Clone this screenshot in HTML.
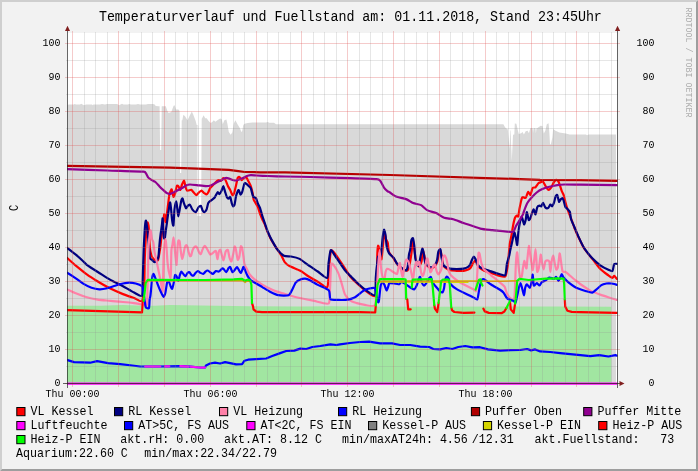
<!DOCTYPE html>
<html lang="de"><head><meta charset="utf-8"><title>Temperaturverlauf und Fuellstand</title>
<style>html,body{margin:0;padding:0;background:#f2f2f2;overflow:hidden}svg{display:block;will-change:transform}text{font-family:"Liberation Mono",monospace;fill:#000;white-space:pre}.t{font-size:13.333px;letter-spacing:-.006px}.l{font-size:11.667px}.a{font-size:10px}.w{font-size:8.333px;fill:#000;fill-opacity:.3}.d{fill:none;stroke-width:2.2;stroke-linejoin:round;stroke-linecap:round}</style></head><body>
<svg width="698" height="471" viewBox="0 0 698 471">
<rect width="698" height="471" fill="#f2f2f2"/>
<path d="M0 0H698L696 2H2V469L0 471Z" fill="#cfcfcf"/>
<path d="M698 0V471H0L2 469H696V2Z" fill="#9e9e9e"/>
<rect x="67" y="33" width="550" height="350" fill="#fff"/>
<defs><clipPath id="c"><rect x="67" y="33" width="550.6" height="352"/></clipPath></defs>
<g clip-path="url(#c)">
<polygon fill="#d9d9d9" points="67.5,105.3 68.5,104.5 74.0,104.5 74.7,103.9 76.0,104.6 80.0,104.6 81.2,103.8 82.5,104.5 84.0,105.2 86.0,104.6 92.0,104.5 92.7,105.2 93.5,104.5 100.0,104.4 102.0,103.9 105.0,104.4 107.0,103.9 117.0,103.9 118.0,104.6 119.0,105.3 120.5,104.5 122.0,103.8 123.5,104.5 128.0,104.5 129.0,104.0 131.0,104.6 136.0,104.4 138.0,103.9 140.0,104.5 146.0,104.5 148.0,103.9 153.0,103.9 154.7,104.5 155.7,105.9 158.7,106.3 159.6,106.3 160.1,150.0 161.2,150.0 161.7,106.3 165.8,106.3 167.3,110.8 168.6,113.1 171.3,112.0 173.6,105.7 174.6,105.2 176.0,109.5 178.4,109.5 179.6,111.0 180.0,173.0 181.2,173.0 181.7,120.2 182.3,120.2 183.4,114.7 185.0,116.3 187.5,120.2 189.4,116.3 191.8,111.5 193.3,114.7 195.7,121.0 196.7,125.0 198.6,126.0 199.2,216.0 201.1,216.0 201.7,118.6 202.0,118.6 203.6,115.2 205.2,118.3 206.7,118.3 208.6,121.0 210.7,123.0 212.3,122.1 213.8,120.2 215.4,121.8 217.8,119.9 220.1,118.6 221.7,119.0 222.8,124.2 224.4,120.2 226.4,119.4 227.5,124.2 228.8,132.0 230.7,134.7 232.3,132.5 233.8,123.4 235.4,120.2 237.5,124.2 239.8,128.1 241.4,132.0 242.2,131.2 243.3,124.9 244.6,123.8 247.7,123.1 252.4,122.6 266.0,122.6 268.0,122.0 269.0,122.8 274.0,122.8 276.0,124.2 503.4,124.2 505.2,127.6 507.8,129.4 509.6,149.0 510.2,130.5 510.6,130.5 511.8,161.0 513.0,134.8 514.3,134.5 514.8,123.6 516.4,123.8 517.7,129.8 518.8,133.9 521.1,133.2 522.6,132.0 523.9,134.5 525.7,131.3 527.6,130.7 528.9,133.2 530.4,127.9 532.6,127.9 533.1,133.0 533.6,127.9 535.4,127.9 535.9,133.5 536.5,127.9 537.5,127.9 540.6,125.7 542.5,126.1 543.8,133.5 545.3,130.7 546.8,124.2 548.6,123.3 549.4,133.5 550.0,143.8 550.8,144.7 552.4,137.3 553.1,128.9 555.5,130.7 559.3,132.6 565.8,133.5 569.5,134.5 586.0,134.5 587.0,135.3 588.5,134.5 616.0,134.5 616,383 67.5,383"/>
<rect x="196.9" y="126" width="2.1" height="90" fill="#fff" opacity=".5"/>
<polygon fill="#a1e6a1" points="67.0,305.8 100.0,305.8 123.0,305.1 142.0,305.8 155.0,305.8 170.0,305.1 200.0,305.6 250.0,306.2 300.0,306.4 330.0,306.3 360.0,306.5 430.0,306.8 500.0,306.5 560.0,306.6 611.3,306.7 611.3,383 67,383"/>
<g class="d">
<polyline stroke="#ff00ff" stroke-width="2.2" stroke-linecap="butt" points="67,383.6 617.5,383.6"/>
<path stroke="#ff0000" d="M67.1 257.9C68.1 258.8 73.6 263.9 75.8 265.7C78.0 267.5 84.4 272.7 86.8 274.4C89.2 276.1 95.2 279.9 97.8 281.5C100.4 283.1 107.6 287.2 110.4 288.6C113.2 290.0 120.4 293.1 123.0 294.1C125.6 295.1 132.0 297.3 134.1 298.0C136.2 298.7 140.9 302.3 142.0 300.9C143.1 299.5 143.9 289.3 144.2 285.0C144.5 280.7 144.6 266.4 144.7 262.0C144.8 257.6 145.2 248.7 145.4 245.0C145.6 241.3 146.4 230.5 146.6 228.0C146.8 225.5 147.4 222.7 147.6 222.5C147.8 222.3 148.4 225.1 148.6 226.3C148.8 227.5 148.9 230.8 149.0 233.2C149.1 235.6 149.7 245.4 149.9 247.8C150.1 250.2 150.9 253.6 151.2 254.7C151.5 255.8 152.4 257.5 152.9 258.1C153.4 258.7 154.9 260.3 155.5 260.5C156.1 260.7 157.6 261.2 158.1 259.8C158.6 258.4 159.8 250.6 160.2 248.0C160.6 245.4 161.2 239.0 161.5 236.6C161.8 234.2 162.5 228.4 162.8 226.0C163.1 223.6 163.9 215.4 164.2 214.5C164.5 213.6 165.0 217.2 165.2 218.0C165.4 218.8 165.7 222.6 165.9 222.0C166.1 221.4 166.7 215.0 167.0 213.0C167.3 211.0 167.9 205.7 168.2 203.7C168.5 201.7 169.0 196.1 169.4 194.5C169.8 192.9 171.3 189.0 171.7 189.3C172.1 189.6 173.0 196.3 173.4 196.8C173.8 197.3 174.7 194.7 175.1 193.5C175.5 192.3 176.4 186.7 176.8 185.9C177.2 185.1 178.2 186.1 178.6 186.5C179.0 186.9 179.9 190.1 180.3 189.9C180.7 189.7 181.6 185.5 182.0 184.5C182.4 183.5 183.7 180.5 184.1 180.7C184.5 180.9 185.1 185.4 185.4 186.5C185.7 187.6 186.5 190.1 187.1 190.5C187.7 190.9 190.5 189.7 191.2 189.9C191.9 190.1 192.9 191.6 193.5 192.2C194.1 192.8 195.7 195.1 196.3 195.1C196.9 195.1 198.6 192.7 199.2 192.2C199.8 191.7 201.0 190.4 201.5 190.5C202.0 190.6 203.2 192.4 203.8 192.8C204.4 193.2 206.1 194.6 206.6 194.5C207.1 194.4 207.9 192.9 208.3 192.2C208.7 191.5 209.6 189.0 210.1 188.2C210.6 187.4 212.2 186.0 212.9 185.3C213.6 184.6 215.9 182.1 216.5 181.5C217.1 180.9 218.3 180.2 218.8 180.1C219.3 180.0 220.5 181.1 221.0 180.9C221.5 180.7 222.8 178.1 223.3 178.0C223.8 177.9 225.1 179.4 225.6 180.3C226.1 181.2 227.4 184.9 227.9 186.0C228.4 187.1 229.7 189.1 230.2 190.1C230.7 191.1 232.1 194.9 232.5 195.2C232.9 195.5 233.8 193.9 234.2 192.9C234.6 191.9 235.5 187.6 235.9 186.0C236.3 184.4 237.3 179.0 237.7 178.0C238.1 177.0 239.0 176.7 239.4 176.9C239.8 177.1 241.2 180.0 241.7 180.1C242.2 180.2 243.5 178.3 244.0 178.0C244.5 177.7 245.8 177.0 246.3 177.4C246.8 177.8 248.1 180.6 248.6 181.5C249.1 182.4 250.4 184.7 250.8 186.0C251.2 187.3 252.3 191.4 252.6 192.9C252.9 194.4 253.4 198.7 253.7 199.8C254.0 200.9 255.0 201.9 255.4 202.7C255.8 203.5 257.2 205.5 257.7 206.7C258.2 207.9 259.5 212.2 260.0 213.6C260.5 215.0 261.8 218.2 262.3 219.3C262.8 220.4 264.0 222.4 264.6 223.9C265.2 225.4 267.2 231.0 268.0 232.8C268.8 234.6 270.5 238.5 271.5 240.2C272.5 241.9 275.7 247.0 276.8 248.7C277.9 250.4 280.6 254.3 281.5 255.8C282.4 257.3 283.8 261.0 284.7 262.1C285.6 263.2 287.7 265.1 289.4 266.0C291.1 266.9 298.3 269.6 300.4 270.7C302.5 271.8 306.4 275.0 308.3 276.2C310.2 277.4 315.7 280.6 317.8 281.8C319.9 283.0 326.0 288.4 327.2 287.3C328.4 286.2 328.4 275.5 328.8 271.5C329.2 267.5 330.2 252.9 330.9 251.0C331.6 249.1 333.9 252.3 335.4 254.2C336.9 256.1 343.3 266.0 344.9 268.4C346.5 270.8 348.7 274.6 350.0 276.2C351.3 277.8 355.3 281.8 356.9 283.3C358.5 284.8 362.9 288.8 364.9 290.2C366.9 291.6 374.1 297.7 375.4 295.9C376.7 294.1 376.7 278.5 376.9 273.9C377.1 269.3 377.2 257.5 377.3 254.4C377.4 251.3 377.9 246.4 378.1 245.8C378.3 245.2 378.9 247.5 379.2 248.7C379.5 249.9 380.1 255.6 380.4 256.7C380.7 257.8 381.3 260.5 381.6 259.0C381.9 257.5 382.9 245.8 383.2 242.9C383.5 240.0 384.1 233.0 384.4 232.6C384.7 232.2 385.7 238.4 386.1 239.5C386.5 240.6 387.5 241.5 387.8 242.9C388.1 244.3 388.3 250.4 389.0 252.1C389.7 253.8 392.9 257.2 393.8 258.6C394.7 260.0 396.6 263.5 397.2 264.4C397.8 265.3 398.9 266.0 399.5 266.6C400.1 267.2 402.0 269.1 402.9 269.5C403.8 269.9 406.6 271.1 407.3 270.6C408.0 270.1 409.2 266.5 409.6 264.7C410.0 262.9 410.9 257.1 411.3 254.4C411.7 251.7 412.5 241.2 412.8 240.6C413.1 240.0 413.9 246.8 414.2 248.7C414.5 250.6 415.3 256.4 415.6 258.0C415.9 259.6 416.4 262.3 416.8 263.2C417.2 264.1 418.6 266.8 419.1 266.6C419.6 266.4 421.2 263.0 421.6 261.3C422.0 259.6 422.6 251.8 422.9 251.2C423.2 250.6 424.1 254.6 424.4 256.0C424.7 257.4 425.2 262.4 425.6 263.6C426.0 264.8 427.6 266.1 428.3 266.6C429.0 267.1 431.0 268.5 431.8 268.3C432.6 268.1 435.2 265.9 435.8 265.0C436.4 264.1 437.3 261.8 437.6 260.5C437.9 259.2 438.4 254.5 438.8 253.5C439.2 252.5 440.5 250.7 440.8 251.2C441.1 251.7 441.6 256.5 441.9 258.0C442.2 259.5 442.9 263.9 443.3 265.0C443.7 266.1 444.9 267.4 445.6 268.0C446.3 268.6 448.6 270.0 449.8 270.3C451.0 270.6 455.2 270.7 456.7 270.8C458.2 270.9 462.3 270.9 463.6 270.8C464.9 270.7 467.5 269.8 468.3 269.5C469.1 269.2 470.1 268.4 470.6 267.8C471.1 267.2 472.2 264.7 472.6 264.0C473.0 263.3 473.8 262.1 474.1 261.7C474.4 261.3 475.2 260.1 475.6 260.5C476.0 260.9 476.9 264.2 477.4 265.0C477.9 265.8 479.0 267.4 479.7 268.0C480.4 268.6 482.9 270.2 484.2 270.8C485.5 271.4 489.4 272.4 491.1 273.0C492.8 273.6 498.4 275.6 500.0 276.0C501.6 276.4 504.4 277.1 505.2 276.4C506.0 275.7 506.7 271.4 507.0 270.0C507.3 268.6 507.7 266.7 508.0 263.9C508.3 261.1 509.3 247.6 509.7 244.4C510.1 241.2 511.1 237.3 511.5 235.2C511.9 233.1 512.8 226.8 513.2 224.9C513.6 223.0 514.5 219.0 514.9 218.0C515.3 217.0 516.2 215.9 516.6 215.7C517.0 215.5 518.0 217.1 518.3 216.3C518.6 215.5 519.1 210.6 519.5 208.6C519.9 206.6 521.4 199.5 521.8 198.2C522.2 196.9 522.5 197.2 522.9 197.1C523.3 197.0 525.2 198.3 525.8 197.7C526.4 197.1 527.6 192.2 528.1 191.9C528.6 191.6 529.9 195.2 530.4 194.8C530.9 194.4 532.1 188.7 532.7 187.9C533.3 187.1 534.9 187.8 535.5 187.3C536.1 186.8 537.8 183.9 538.4 183.3C539.0 182.7 540.2 182.4 540.7 182.2C541.2 182.0 542.5 181.2 543.0 181.6C543.5 182.0 544.8 184.8 545.3 185.6C545.8 186.4 547.2 188.7 547.6 189.1C548.0 189.5 548.9 189.9 549.3 189.6C549.7 189.3 551.1 187.6 551.6 186.8C552.1 186.0 553.4 183.0 553.9 182.2C554.4 181.4 555.7 180.0 556.2 179.9C556.7 179.8 558.1 180.9 558.5 181.6C558.9 182.3 559.8 185.1 560.2 186.2C560.6 187.3 561.5 190.5 561.9 191.4C562.3 192.3 563.2 193.7 563.6 194.8C564.0 195.9 564.9 200.1 565.3 201.7C565.7 203.3 567.1 208.0 567.6 209.5C568.1 211.0 569.5 214.3 569.9 215.5C570.3 216.7 571.1 218.6 571.6 220.0C572.1 221.4 573.8 226.2 574.5 228.0C575.2 229.8 577.1 234.2 578.2 236.5C579.3 238.8 582.6 246.0 584.2 248.5C585.8 251.0 591.2 257.4 592.3 258.8C593.4 260.2 593.4 260.2 594.3 261.3C595.2 262.4 598.7 267.4 600.3 269.0C601.9 270.6 607.1 274.4 608.4 275.4C609.7 276.4 611.9 277.9 612.5 277.9C613.1 277.9 613.6 275.7 614.1 275.8C614.6 275.9 616.8 278.7 617.1 279.1"/>
<path stroke="#000080" d="M67.1 247.9C68.1 248.6 74.1 253.3 75.8 254.7C77.5 256.1 80.9 259.1 82.1 260.2C83.3 261.3 85.1 263.6 86.8 264.9C88.5 266.2 95.2 270.4 97.8 272.0C100.4 273.6 107.6 278.3 110.4 279.9C113.2 281.5 120.4 284.8 123.0 286.2C125.6 287.6 132.0 291.5 134.1 292.5C136.2 293.5 141.1 297.1 142.0 295.7C142.7 294.3 142.5 284.8 142.7 280.0C142.9 275.2 143.4 257.1 143.6 251.7C143.8 246.3 144.5 233.9 144.7 230.5C144.9 227.1 145.5 221.1 145.8 220.7C146.1 220.3 146.7 224.6 147.0 226.5C147.3 228.4 148.0 235.7 148.2 238.0C148.4 240.3 148.8 245.6 149.0 247.8C149.2 250.0 149.6 256.8 149.9 258.1C150.2 259.4 151.5 259.3 152.0 259.8C152.5 260.3 153.9 262.2 154.5 262.2C155.1 262.2 156.8 260.4 157.2 259.8C157.6 259.2 158.3 258.0 158.5 256.4C158.7 254.8 159.2 248.0 159.4 245.5C159.6 243.0 160.4 235.8 160.7 233.5C161.0 231.2 161.7 226.7 161.9 225.0C162.1 223.3 162.5 218.1 162.6 218.4C162.7 218.7 163.1 225.9 163.2 228.0C163.3 230.1 163.7 236.4 163.9 237.6C164.1 238.8 164.6 239.1 164.8 238.5C165.0 237.9 165.4 233.4 165.6 232.0C165.8 230.6 166.2 227.8 166.5 225.8C166.8 223.8 167.8 216.1 168.2 213.5C168.6 210.9 169.7 203.0 170.0 202.5C170.3 202.0 170.9 207.4 171.1 209.4C171.3 211.4 171.9 219.0 172.2 220.8C172.5 222.6 173.1 226.7 173.4 225.4C173.7 224.1 174.2 212.0 174.5 209.4C174.8 206.8 176.0 201.4 176.3 201.4C176.6 201.4 177.2 207.8 177.4 209.4C177.6 211.0 178.0 216.3 178.3 216.3C178.6 216.3 179.4 211.2 179.7 209.4C180.0 207.6 181.1 201.4 181.4 200.2C181.7 199.0 182.3 198.2 182.6 198.5C182.9 198.8 183.3 201.4 183.7 202.5C184.1 203.6 185.6 207.8 186.0 208.2C186.4 208.6 187.3 206.3 187.7 205.9C188.1 205.5 189.5 204.4 190.0 204.8C190.5 205.2 191.7 208.6 192.3 209.4C192.9 210.2 195.0 212.5 195.7 212.2C196.4 211.9 198.0 207.8 198.6 207.1C199.2 206.4 200.5 205.5 200.9 205.9C201.3 206.3 202.2 209.8 202.6 210.5C203.0 211.2 203.9 212.3 204.3 212.2C204.7 212.1 206.1 210.4 206.6 209.4C207.1 208.4 207.8 203.8 208.4 202.7C209.0 201.6 211.2 200.4 211.9 199.8C212.6 199.2 214.1 198.3 214.7 197.5C215.3 196.7 217.1 192.7 217.6 192.3C218.1 191.9 218.9 194.3 219.3 194.1C219.7 193.9 221.2 191.5 221.6 190.6C222.0 189.7 222.9 185.9 223.3 186.0C223.7 186.1 224.7 190.6 225.1 191.8C225.5 193.0 226.4 196.1 226.8 196.9C227.2 197.7 228.1 198.7 228.5 198.7C228.9 198.7 229.8 196.3 230.2 196.9C230.6 197.5 231.6 202.8 231.9 203.8C232.2 204.8 232.8 206.3 233.1 206.4C233.4 206.5 234.3 205.4 234.6 204.4C234.9 203.4 235.6 198.4 235.9 196.9C236.2 195.4 237.4 191.9 237.7 191.2C238.0 190.5 238.5 189.7 238.8 190.1C239.1 190.5 240.1 194.4 240.5 194.6C240.9 194.8 241.8 193.0 242.2 191.8C242.6 190.6 244.0 184.4 244.5 183.5C245.0 182.6 245.8 183.5 246.3 183.8C246.8 184.1 248.1 185.5 248.6 186.0C249.1 186.5 250.3 187.2 250.8 188.3C251.3 189.4 252.5 195.3 253.1 196.4C253.7 197.5 255.5 197.4 256.0 198.1C256.5 198.8 257.3 202.1 257.7 203.2C258.1 204.3 259.5 206.4 260.0 207.8C260.5 209.2 261.8 214.2 262.3 215.8C262.8 217.4 264.0 220.9 264.6 222.7C265.2 224.5 267.2 230.3 268.0 232.2C268.8 234.1 270.5 237.8 271.5 239.6C272.5 241.4 275.4 246.9 276.8 248.7C278.2 250.5 282.3 254.9 283.9 255.8C285.5 256.7 289.3 256.2 291.0 256.5C292.7 256.8 297.7 257.9 299.6 258.9C301.5 259.9 306.3 263.8 308.3 265.2C310.3 266.6 315.7 270.1 317.8 271.5C319.9 272.9 326.0 278.7 327.2 277.8C328.4 276.9 328.1 266.6 328.5 263.6C328.9 260.6 330.0 251.1 330.7 250.2C331.4 249.3 333.6 253.6 335.1 255.8C336.6 258.0 343.0 267.7 344.6 269.9C346.2 272.1 348.6 274.2 350.0 275.6C351.4 277.0 355.3 281.0 356.9 282.5C358.5 284.0 362.9 288.0 364.9 289.4C366.9 290.8 374.0 296.4 375.2 295.1C375.8 293.8 375.6 281.1 375.8 277.9C376.0 274.7 376.6 268.1 376.9 265.8C377.2 263.5 377.8 257.6 378.1 256.7C378.4 255.8 379.4 258.3 379.8 257.8C380.2 257.3 381.0 254.3 381.3 252.0C381.6 249.7 382.4 239.7 382.7 237.2C383.0 234.7 383.7 230.0 384.0 229.7C384.3 229.4 385.2 233.1 385.5 234.9C385.8 236.7 386.3 244.4 386.7 246.4C387.1 248.4 388.2 251.9 389.0 253.2C389.8 254.5 392.7 256.7 393.6 257.8C394.5 258.9 396.4 262.7 397.0 263.6C397.6 264.5 398.7 265.2 399.3 265.8C399.9 266.4 401.9 268.2 402.7 268.7C403.5 269.2 405.6 270.7 406.2 270.4C406.8 270.1 407.6 267.6 407.9 265.8C408.2 264.0 408.7 256.2 409.0 254.4C409.3 252.6 409.9 251.3 410.2 249.8C410.5 248.3 411.0 241.9 411.3 240.6C411.6 239.3 412.7 237.8 413.0 238.3C413.3 238.8 413.9 243.1 414.2 245.2C414.5 247.3 415.0 255.9 415.3 257.8C415.6 259.7 416.1 261.5 416.5 262.4C416.9 263.3 418.4 266.4 418.8 265.8C419.2 265.2 420.1 258.6 420.5 256.7C420.9 254.8 422.0 248.8 422.4 248.6C422.8 248.4 423.7 253.2 424.0 254.8C424.3 256.4 424.8 261.6 425.2 262.8C425.6 264.0 427.3 265.2 428.0 265.7C428.7 266.2 430.7 267.6 431.5 267.4C432.3 267.2 434.9 264.9 435.5 264.0C436.1 263.1 436.9 260.7 437.2 259.4C437.5 258.1 437.9 253.0 438.3 251.9C438.7 250.8 440.0 248.7 440.4 249.3C440.8 249.9 441.2 255.5 441.5 257.1C441.8 258.7 442.5 262.9 442.9 264.0C443.3 265.1 444.4 266.3 445.2 266.8C446.0 267.3 448.5 268.3 449.8 268.6C451.1 268.9 455.2 269.1 456.7 269.1C458.2 269.1 462.3 268.9 463.6 268.6C464.9 268.3 467.4 267.3 468.1 266.8C468.8 266.3 470.0 264.8 470.4 264.0C470.8 263.2 471.7 260.2 472.1 259.4C472.5 258.6 473.5 256.5 473.9 256.5C474.3 256.5 475.2 258.6 475.6 259.4C476.0 260.2 476.9 263.2 477.3 264.0C477.7 264.8 478.8 266.2 479.6 266.8C480.4 267.4 482.9 268.6 484.2 269.1C485.5 269.6 489.4 270.8 491.1 271.4C492.8 272.0 498.4 273.8 500.0 274.2C501.6 274.6 504.4 276.3 505.2 275.2C506.0 274.1 506.5 265.9 506.9 263.8C507.3 261.7 508.8 257.2 509.2 255.7C509.6 254.2 509.9 251.8 510.3 250.1C510.7 248.4 512.2 241.8 512.6 239.8C513.0 237.8 513.9 232.4 514.3 232.3C514.7 232.2 515.7 237.3 516.0 238.7C516.3 240.1 516.9 245.6 517.2 245.0C517.5 244.4 518.0 235.5 518.3 232.9C518.6 230.3 519.7 223.3 520.1 221.5C520.5 219.7 521.4 216.6 521.8 216.9C522.2 217.2 523.7 224.0 524.1 224.3C524.5 224.6 525.5 220.6 525.8 219.2C526.1 217.8 526.6 211.9 526.9 212.0C527.2 212.1 528.3 219.3 528.7 220.0C529.1 220.7 530.0 218.8 530.4 218.0C530.8 217.2 531.7 213.5 532.1 212.6C532.5 211.7 533.4 209.3 533.8 209.5C534.2 209.7 535.1 214.6 535.5 214.4C535.9 214.2 536.8 208.4 537.2 207.4C537.6 206.4 539.0 205.8 539.5 205.7C540.0 205.6 540.9 206.6 541.3 206.3C541.7 206.0 542.6 202.7 543.0 202.8C543.4 202.9 544.7 206.8 545.3 207.4C545.9 208.0 547.5 208.3 548.1 208.0C548.7 207.7 550.0 204.7 550.4 204.5C550.8 204.3 551.7 206.5 552.1 206.3C552.5 206.1 553.5 203.9 553.9 202.8C554.3 201.7 555.2 197.4 555.6 196.5C556.0 195.6 556.9 194.4 557.3 195.0C557.7 195.6 558.6 201.2 559.0 201.7C559.4 202.2 560.3 199.8 560.7 199.4C561.1 199.0 562.2 198.1 562.5 198.2C562.8 198.3 563.3 199.6 563.6 200.5C563.9 201.4 564.9 205.9 565.3 206.8C565.7 207.7 567.1 208.5 567.6 209.1C568.1 209.7 569.5 210.9 569.9 212.0C570.3 213.1 570.6 217.5 571.1 219.2C571.6 220.9 573.7 225.3 574.5 227.2C575.3 229.1 577.1 233.8 578.2 236.1C579.3 238.4 582.6 245.8 584.2 248.2C585.8 250.6 590.5 256.4 592.3 258.3C594.1 260.2 598.5 264.0 600.3 265.3C602.1 266.6 607.1 269.2 608.4 269.8C609.7 270.4 611.9 271.6 612.5 271.0C613.1 270.4 613.6 265.1 614.1 264.3C614.6 263.5 616.8 263.9 617.1 263.9"/>
<path stroke="#ff80a8" d="M67.1 289.4C68.1 289.8 73.6 292.4 75.8 293.3C78.0 294.2 84.4 296.6 86.8 297.3C89.2 298.0 95.2 299.2 97.8 299.6C100.4 300.0 107.6 300.6 110.4 300.9C113.2 301.2 120.4 301.8 123.0 302.0C125.6 302.2 132.0 302.8 134.1 303.1C136.2 303.4 140.6 304.3 142.0 304.5C143.4 304.7 146.2 307.1 146.8 305.0C147.4 302.9 147.4 289.7 147.6 285.0C147.8 280.3 148.1 266.5 148.2 262.0C148.3 257.5 148.5 247.2 148.8 243.7C149.1 240.2 150.1 230.7 150.5 230.2C150.9 229.7 151.7 237.9 152.0 239.2C152.3 240.5 153.0 240.8 153.3 242.2C153.6 243.6 154.1 249.8 154.5 252.0C154.9 254.2 156.3 259.7 156.8 262.0C157.3 264.3 158.5 270.7 159.0 273.0C159.5 275.3 160.6 281.0 161.0 283.0C161.4 285.0 162.4 292.4 162.6 291.5C162.8 290.6 163.1 279.0 163.2 275.0C163.3 271.0 163.5 258.1 163.6 254.7C163.7 251.3 164.3 246.1 164.5 244.4C164.7 242.7 165.3 239.2 165.5 239.2C165.7 239.2 166.1 243.1 166.2 244.4C166.3 245.7 166.7 249.3 166.8 251.2C166.9 253.1 167.3 259.9 167.5 262.0C167.7 264.1 168.3 268.5 168.5 270.0C168.7 271.5 169.5 274.3 169.7 275.2C169.9 276.1 170.4 278.4 170.5 277.8C170.6 277.2 170.9 273.0 171.0 270.0C171.1 267.0 171.2 253.2 171.4 250.4C171.6 247.6 172.3 245.8 172.5 244.4C172.7 243.0 173.3 237.3 173.5 237.3C173.7 237.3 174.2 242.5 174.4 244.4C174.6 246.3 175.1 252.8 175.3 254.7C175.5 256.6 176.0 260.9 176.1 262.0C176.2 263.1 176.4 265.3 176.5 264.9C176.6 264.5 176.9 259.6 177.0 258.0C177.1 256.4 177.3 252.3 177.4 250.4C177.5 248.5 178.1 241.9 178.3 240.9C178.5 239.9 179.4 240.5 179.6 241.3C179.8 242.1 180.2 246.3 180.4 247.8C180.6 249.3 181.1 253.5 181.3 254.7C181.5 255.9 182.1 259.0 182.3 259.0C182.5 259.0 183.1 255.9 183.4 254.7C183.7 253.5 184.4 248.8 184.7 247.8C185.0 246.8 185.7 245.3 186.0 245.2C186.3 245.1 187.0 245.7 187.3 246.5C187.6 247.3 188.3 251.1 188.6 252.1C188.9 253.1 189.6 255.6 189.9 256.0C190.2 256.4 190.9 256.1 191.2 255.5C191.5 254.9 192.2 251.3 192.5 250.4C192.8 249.5 193.8 247.8 194.2 247.4C194.6 247.0 195.9 246.4 196.3 246.5C196.7 246.6 197.3 248.1 197.6 248.7C197.9 249.3 198.6 251.5 198.9 252.1C199.2 252.7 199.8 253.6 200.0 253.8C200.2 254.0 200.6 254.5 200.9 254.0C201.2 253.5 202.2 250.3 202.6 249.4C203.0 248.5 204.4 245.9 204.9 245.9C205.4 245.9 206.7 248.5 207.3 249.4C207.9 250.3 209.6 254.1 210.2 254.5C210.8 254.9 212.4 253.2 213.0 252.8C213.6 252.4 215.4 250.4 215.9 251.1C216.4 251.8 217.1 259.0 217.4 259.1C217.7 259.2 218.5 252.7 218.8 251.7C219.1 250.7 220.0 249.1 220.5 250.0C221.0 250.9 222.7 260.1 223.3 260.3C223.9 260.5 225.1 252.8 225.6 251.7C226.1 250.6 227.5 249.3 227.9 250.0C228.3 250.7 229.2 256.7 229.6 258.0C230.0 259.3 231.0 261.8 231.4 261.4C231.8 261.0 232.7 256.1 233.1 254.5C233.5 252.9 234.3 247.1 234.6 246.5C234.9 245.9 235.6 247.9 235.9 249.4C236.2 250.9 237.3 258.9 237.7 259.7C238.1 260.5 239.1 257.8 239.4 256.3C239.7 254.8 240.5 247.4 240.8 246.5C241.1 245.6 241.9 247.1 242.2 248.2C242.5 249.3 243.1 254.5 243.4 256.3C243.7 258.1 244.1 262.9 244.5 264.3C244.9 265.7 246.2 267.8 246.8 268.9C247.4 270.0 248.9 273.4 249.7 274.5C250.5 275.6 253.2 278.2 254.3 279.1C255.4 280.0 258.5 282.2 260.0 283.1C261.5 284.0 266.2 286.8 268.0 287.7C269.8 288.6 274.2 290.7 276.1 291.4C278.0 292.1 282.7 293.3 285.0 294.0C287.3 294.7 294.2 296.8 297.3 297.5C300.4 298.2 309.5 300.1 313.0 300.7C316.5 301.3 326.9 304.9 328.8 303.4C330.1 301.9 329.8 291.6 330.1 287.3C330.4 283.0 330.7 266.7 331.2 264.4C331.7 262.1 333.5 265.0 334.3 266.0C335.1 267.0 337.5 271.3 338.3 273.1C339.1 274.9 340.7 280.3 341.4 282.6C342.1 284.9 343.9 291.9 344.6 293.6C345.3 295.3 346.9 297.4 347.7 298.3C348.5 299.2 351.0 301.1 352.0 301.6C353.0 302.1 355.5 302.7 356.9 303.1C358.3 303.5 363.0 304.6 364.9 304.9C366.8 305.2 373.3 307.1 374.6 305.4C375.9 303.7 376.5 293.7 376.9 289.4C377.3 285.1 377.8 270.8 378.1 266.5C378.4 262.2 379.3 250.0 379.6 250.0C379.9 250.0 380.6 263.4 380.9 266.5C381.2 269.6 382.3 276.4 382.7 277.9C383.1 279.4 384.1 280.8 384.4 280.2C384.7 279.6 385.2 273.5 385.5 272.2C385.8 270.9 386.7 269.1 387.2 268.8C387.7 268.5 389.4 269.5 390.1 269.9C390.8 270.3 392.8 271.8 393.6 272.2C394.4 272.6 396.4 274.5 397.0 273.9C397.6 273.3 398.4 267.7 398.7 266.5C399.0 265.3 399.6 262.6 399.9 263.0C400.2 263.4 400.7 268.4 401.0 269.9C401.3 271.4 402.3 277.2 402.7 276.8C403.1 276.4 404.0 268.4 404.4 266.5C404.8 264.6 405.7 260.1 406.2 259.6C406.7 259.1 408.0 260.8 408.5 261.9C409.0 263.0 410.2 268.0 410.7 269.9C411.2 271.8 412.6 279.7 413.0 279.6C413.4 279.5 414.0 270.7 414.4 268.8C414.8 266.9 415.8 262.3 416.2 261.9C416.6 261.5 417.3 265.3 417.6 265.3C417.9 265.3 418.9 261.1 419.3 261.9C419.7 262.7 420.7 270.6 421.1 272.2C421.5 273.8 422.4 276.1 422.8 276.0C423.2 275.9 424.1 272.7 424.5 271.0C424.9 269.3 426.0 261.9 426.3 260.5C426.6 259.1 427.2 258.0 427.5 258.4C427.8 258.8 428.3 262.5 428.6 264.0C428.9 265.5 430.0 271.3 430.3 272.0C430.6 272.7 431.2 271.4 431.5 270.8C431.8 270.2 432.8 267.0 433.2 266.3C433.6 265.6 434.5 264.0 434.9 264.5C435.3 265.0 436.2 269.7 436.6 270.8C437.0 271.9 437.8 274.4 438.3 274.3C438.8 274.2 440.7 271.5 441.2 269.7C441.7 267.9 442.5 259.8 442.9 258.2C443.3 256.6 444.2 255.4 444.6 255.4C445.0 255.4 445.8 257.3 446.1 258.2C446.4 259.1 447.2 262.6 447.5 264.0C447.8 265.4 448.3 269.6 448.7 270.8C449.1 272.0 449.9 274.2 450.9 275.3C451.9 276.4 456.2 279.9 457.8 281.0C459.4 282.1 464.0 284.7 465.8 285.6C467.6 286.5 472.8 289.0 473.9 289.6C475.0 290.2 475.8 292.2 476.2 290.8C476.6 289.4 476.9 279.7 477.1 276.5C477.3 273.3 477.7 264.6 477.9 262.0C478.1 259.4 478.3 254.0 478.5 253.1C478.7 252.2 479.3 252.6 479.6 253.7C479.9 254.8 480.9 261.1 481.3 262.8C481.7 264.5 483.3 268.3 483.6 269.0C483.9 269.7 483.6 268.9 484.2 269.6C485.0 270.3 489.4 273.9 491.1 275.3C492.8 276.7 498.5 281.2 500.0 282.5C501.5 283.8 503.8 285.5 504.6 286.7C505.4 287.9 506.3 292.4 506.9 293.6C507.5 294.8 508.9 297.0 509.7 297.6C510.5 298.2 513.2 300.1 513.8 299.3C514.4 298.5 514.7 294.3 514.9 290.1C515.1 285.9 515.7 265.7 516.0 261.5C516.3 257.3 516.9 252.0 517.2 252.3C517.5 252.6 518.0 261.0 518.3 263.8C518.6 266.6 519.7 276.1 520.1 277.5C520.5 278.9 521.5 277.4 521.8 276.4C522.1 275.4 522.6 270.0 522.9 268.3C523.2 266.6 524.0 261.0 524.3 260.9C524.6 260.8 525.5 266.4 525.8 267.2C526.1 268.0 526.4 269.0 526.6 268.0C526.8 267.0 527.2 260.4 527.5 258.0C527.8 255.6 528.6 246.0 528.9 245.8C529.2 245.6 530.1 254.1 530.4 256.0C530.7 257.9 531.2 261.5 531.5 263.0C531.8 264.5 532.5 270.3 532.8 270.0C533.1 269.7 533.9 262.3 534.2 260.0C534.5 257.7 535.3 249.0 535.5 249.0C535.7 249.0 536.2 257.5 536.4 260.0C536.6 262.5 536.9 271.0 537.2 271.8C537.5 272.6 538.6 269.1 539.0 267.2C539.4 265.3 540.4 255.3 540.7 254.7C541.0 254.1 541.5 259.9 541.8 261.5C542.1 263.1 543.2 269.5 543.6 269.5C544.0 269.5 544.9 262.5 545.3 261.5C545.7 260.5 546.6 260.3 547.0 260.3C547.4 260.3 548.9 260.2 549.3 261.5C549.7 262.8 550.1 271.8 550.4 271.8C550.7 271.8 551.3 263.3 551.6 261.5C551.9 259.7 553.0 255.7 553.3 255.7C553.6 255.7 554.1 260.0 554.4 261.5C554.7 263.0 555.8 268.9 556.2 269.5C556.6 270.1 557.5 268.9 557.9 267.2C558.3 265.5 559.3 254.5 559.6 253.6C559.9 252.7 560.4 257.3 560.7 259.2C561.0 261.1 562.0 269.8 562.5 271.2C563.0 272.6 564.6 271.4 565.3 271.8C566.0 272.2 567.8 273.8 568.8 274.6C569.8 275.4 573.2 278.5 574.5 279.5C575.8 280.5 578.5 282.8 580.2 284.0C581.9 285.2 588.1 289.4 590.3 290.6C592.5 291.8 598.1 293.8 600.3 294.6C602.5 295.4 608.6 297.4 610.4 298.0C612.2 298.6 616.4 299.8 617.1 300.0"/>
<path stroke="#0000ff" d="M67.1 272.8C68.1 273.4 74.0 277.1 75.8 278.3C77.6 279.5 81.9 282.9 83.6 283.9C85.3 284.9 89.8 287.2 91.5 287.8C93.2 288.4 97.7 289.3 99.4 289.4C101.1 289.5 105.6 288.7 107.3 288.3C109.0 287.9 113.5 286.2 115.2 285.7C116.9 285.2 121.4 283.8 123.0 283.5C124.6 283.2 127.9 282.6 129.3 282.6C130.7 282.6 134.3 283.1 135.7 283.5C137.1 283.9 141.2 285.6 142.0 286.2C142.8 286.8 142.7 287.8 143.0 289.4C143.3 291.0 144.4 298.8 144.7 300.8C145.0 302.8 145.4 306.5 145.9 307.3C146.4 308.1 148.6 308.9 149.0 308.1C149.4 307.3 149.4 301.4 149.6 300.0C149.8 298.6 150.2 297.5 150.5 295.1C150.8 292.7 151.9 280.2 152.2 277.9C152.5 275.6 153.3 274.0 153.6 273.9C153.9 273.8 154.6 276.1 155.1 277.3C155.6 278.5 157.3 283.2 157.9 284.8C158.5 286.4 160.2 290.4 160.8 291.7C161.4 293.0 163.2 296.7 163.7 296.8C164.2 296.9 165.0 294.4 165.4 292.8C165.8 291.2 166.7 283.8 167.1 282.5C167.5 281.2 168.4 281.0 168.8 281.4C169.2 281.8 170.1 285.1 170.5 285.9C170.9 286.7 171.8 289.3 172.2 288.8C172.6 288.3 173.7 282.9 174.0 281.4C174.3 279.9 174.8 275.6 175.1 275.1C175.4 274.6 176.4 276.2 176.8 276.8C177.2 277.4 178.0 280.9 178.3 280.8C178.6 280.7 179.4 276.6 179.7 275.6C180.0 274.6 181.0 271.7 181.4 271.6C181.8 271.5 183.3 274.0 183.7 274.5C184.1 275.0 185.0 276.4 185.4 276.2C185.8 276.0 187.3 273.2 187.7 272.8C188.1 272.4 189.0 271.9 189.4 272.2C189.8 272.5 191.2 274.7 191.7 275.1C192.2 275.5 193.1 275.9 193.5 275.6C193.9 275.3 195.2 273.3 195.7 272.8C196.2 272.3 197.5 271.0 198.0 271.0C198.5 271.0 199.7 272.5 200.3 272.8C200.9 273.1 202.6 274.0 203.2 273.9C203.8 273.8 205.0 272.0 205.5 271.6C206.0 271.2 207.3 270.4 207.8 270.5C208.3 270.6 209.5 271.8 210.1 272.2C210.7 272.6 212.4 274.0 213.0 273.9C213.6 273.8 215.3 271.3 215.9 271.0C216.5 270.7 218.1 271.9 218.8 271.6C219.5 271.3 221.6 268.8 222.2 268.5C222.8 268.2 223.5 268.9 223.9 269.3C224.3 269.7 225.7 272.3 226.2 272.2C226.7 272.1 228.1 268.8 228.5 268.2C228.9 267.6 229.8 266.6 230.2 267.0C230.6 267.4 232.0 271.9 232.5 272.2C233.0 272.5 234.3 270.5 234.8 269.9C235.3 269.3 236.6 266.9 237.1 267.0C237.6 267.1 239.0 270.4 239.4 271.0C239.8 271.6 240.7 273.2 241.1 272.8C241.5 272.4 243.0 267.3 243.4 267.0C243.8 266.7 244.7 269.6 245.1 270.5C245.5 271.4 246.8 274.5 247.4 275.6C248.0 276.7 249.8 279.3 250.8 280.2C251.8 281.1 255.3 282.9 256.6 283.7C257.9 284.5 260.8 286.2 262.3 287.1C263.8 288.0 268.7 291.1 270.5 292.0C272.3 292.9 276.4 294.8 278.4 295.2C280.4 295.6 287.1 295.7 288.6 295.2C290.1 294.7 291.0 291.8 291.8 290.4C292.6 289.0 294.8 283.8 295.7 282.6C296.6 281.4 299.4 279.8 300.4 279.4C301.4 279.0 304.2 278.5 305.2 278.6C306.2 278.7 308.5 279.5 309.9 280.2C311.3 280.9 315.7 283.8 317.8 284.9C319.9 286.0 327.4 288.8 328.8 290.4C330.2 292.0 329.4 298.1 330.4 299.1C331.4 300.1 336.4 299.8 338.3 299.9C340.2 300.0 345.9 299.9 347.7 299.6C349.5 299.3 353.3 298.0 354.6 297.4C355.9 296.8 358.2 294.8 359.2 294.0C360.2 293.2 362.8 291.1 363.8 290.5C364.8 289.9 367.1 289.1 368.3 288.8C369.5 288.5 373.7 287.6 374.6 288.0C375.5 288.4 375.8 291.4 376.1 292.8C376.4 294.2 377.2 299.8 377.5 300.8C377.8 301.8 378.4 302.9 378.7 302.0C379.0 301.1 379.6 294.7 379.8 292.8C380.0 290.9 380.6 285.9 380.9 284.8C381.2 283.7 382.3 282.5 382.7 282.5C383.1 282.5 384.0 283.9 384.4 284.8C384.8 285.7 386.3 290.4 386.7 290.5C387.1 290.6 388.1 286.7 388.4 285.9C388.7 285.1 388.7 283.3 389.5 283.1C390.3 282.9 394.7 283.6 395.8 283.7C396.9 283.8 398.7 284.4 399.3 284.2C399.9 284.0 400.5 282.0 401.0 281.9C401.5 281.8 403.2 282.7 403.9 283.1C404.6 283.5 406.6 284.9 407.3 285.4C408.0 285.9 409.9 287.3 410.7 287.7C411.5 288.1 413.6 289.6 414.2 289.4C414.8 289.2 416.0 287.0 416.5 285.9C417.0 284.8 418.4 280.1 418.8 279.1C419.2 278.1 419.8 276.5 420.1 276.8C420.4 277.1 421.3 281.2 421.7 282.2C422.1 283.2 423.4 285.6 424.0 285.6C424.6 285.6 426.3 283.0 426.9 282.2C427.5 281.4 428.8 278.8 429.2 278.2C429.6 277.6 430.5 276.6 430.9 277.0C431.3 277.4 432.0 281.1 432.6 282.2C433.2 283.3 435.2 285.9 436.0 286.8C436.8 287.7 438.8 290.2 439.5 290.8C440.2 291.4 441.8 292.8 442.3 292.5C442.8 292.2 443.8 289.3 444.1 287.9C444.4 286.5 444.9 281.2 445.2 279.9C445.5 278.6 446.5 276.6 446.9 276.5C447.3 276.4 448.3 277.9 448.7 278.8C449.1 279.7 450.0 283.4 450.9 284.5C451.8 285.6 455.1 288.1 456.7 289.1C458.3 290.1 463.9 292.8 465.8 293.7C467.7 294.6 472.6 297.1 473.9 297.7C475.2 298.3 476.8 299.8 477.3 299.4C477.8 299.0 478.2 295.3 478.5 293.7C478.8 292.1 479.8 286.0 480.2 284.5C480.6 283.0 481.5 280.5 481.9 279.9C482.3 279.3 483.7 279.2 484.2 279.3C484.7 279.4 485.7 280.4 486.5 281.0C487.3 281.6 489.6 283.5 491.1 284.5C492.6 285.5 498.6 288.9 500.0 289.8C501.4 290.7 502.6 291.5 503.4 292.4C504.2 293.3 506.1 297.3 506.9 298.1C507.7 298.9 509.5 299.6 510.3 299.9C511.1 300.2 513.2 300.7 513.8 301.0C514.4 301.3 515.1 303.3 515.5 302.7C515.9 302.1 516.8 297.4 517.2 295.8C517.6 294.2 518.5 289.2 518.9 287.8C519.3 286.4 520.2 283.1 520.6 283.2C521.0 283.3 521.9 287.7 522.3 289.0C522.7 290.3 523.8 295.4 524.1 295.3C524.4 295.2 524.9 289.0 525.2 287.8C525.5 286.6 526.4 284.4 526.9 284.4C527.4 284.4 529.3 288.1 529.8 287.8C530.3 287.5 531.2 283.6 531.5 282.1C531.8 280.6 532.4 274.2 532.7 274.6C533.0 275.0 533.4 284.6 533.8 285.5C534.2 286.4 536.1 283.2 536.7 283.2C537.3 283.2 538.9 285.6 539.5 285.5C540.1 285.4 541.1 282.7 541.8 282.1C542.5 281.5 545.0 280.9 545.8 280.4C546.6 279.9 548.4 277.7 549.3 277.5C550.2 277.3 553.1 278.8 553.9 278.7C554.7 278.6 555.7 276.7 556.2 276.9C556.7 277.1 558.1 280.8 558.5 280.9C558.9 281.0 559.8 278.2 560.2 277.5C560.6 276.8 561.3 274.1 561.7 274.1C562.1 274.1 562.8 276.6 563.6 277.5C564.4 278.4 567.6 281.7 568.8 282.7C570.0 283.7 573.5 286.1 574.5 286.7C575.5 287.3 576.9 288.0 578.2 288.5C579.5 289.0 584.6 290.7 586.2 291.2C587.8 291.7 591.2 292.8 592.3 292.6C593.4 292.4 595.3 290.4 596.3 289.6C597.3 288.8 600.3 285.8 601.4 285.1C602.5 284.4 605.3 283.7 606.4 283.5C607.5 283.3 610.2 283.3 611.4 283.5C612.6 283.7 616.5 284.7 617.1 284.9"/>
<polyline stroke="#b80000" points="67.1,165.8 170.0,167.7 197.3,168.7 228.8,169.9 238.3,171.2 244.6,172.0 260.0,172.3 285.0,172.4 390.0,175.0 520.0,179.1 540.1,179.9 580.0,180.2 617.0,180.9"/>
<path stroke="#900090" d="M67.1 169.2C71.5 169.3 98.9 170.2 107.3 170.5C115.7 170.8 139.3 171.4 143.5 171.7C145.9 172.0 145.4 172.7 145.9 173.3C146.4 173.9 147.7 176.9 148.3 177.6C148.9 178.3 150.6 179.4 151.4 179.9C152.2 180.4 154.5 181.3 155.4 182.0C156.3 182.7 158.4 185.2 159.3 186.2C160.2 187.2 163.2 190.0 164.0 190.7C164.8 191.4 165.9 192.4 166.5 192.8C167.1 193.2 169.1 193.8 169.7 193.9C170.3 194.0 171.0 193.6 171.7 193.3C172.4 193.0 175.3 191.5 176.3 191.0C177.3 190.5 179.7 189.4 180.8 188.8C181.9 188.2 185.6 185.8 186.6 185.3C187.6 184.8 188.7 184.5 190.0 184.5C191.3 184.5 196.2 185.1 198.0 185.3C199.8 185.5 204.7 186.1 206.1 186.1C207.5 186.1 209.6 185.9 210.7 185.5C211.8 185.1 215.2 183.2 216.5 182.6C217.8 182.0 221.2 180.2 222.2 179.7C223.2 179.2 224.8 178.1 225.6 178.0C226.4 177.9 228.2 178.3 229.1 178.6C230.0 178.9 232.8 180.1 233.7 180.3C234.6 180.5 236.2 180.5 237.1 180.3C238.0 180.1 240.7 179.0 241.7 178.6C242.7 178.2 245.3 176.7 246.3 176.3C247.3 175.9 249.7 175.3 250.8 175.2C251.9 175.1 254.7 175.4 256.6 175.5C258.5 175.6 264.9 175.9 268.0 176.0C271.1 176.1 280.4 176.4 285.0 176.5C289.6 176.6 303.0 176.8 310.2 177.0C317.4 177.2 343.0 177.9 350.3 178.1C357.6 178.3 373.1 178.8 376.4 179.1C379.7 179.4 379.5 180.1 380.4 181.1C381.3 182.1 383.6 187.0 384.4 188.1C385.2 189.2 386.8 190.6 387.4 191.1C388.0 191.6 389.1 191.9 390.0 192.5C390.9 193.1 394.2 195.8 396.0 196.5C397.8 197.2 404.2 198.4 406.1 199.1C408.0 199.8 411.5 202.4 413.1 203.1C414.8 203.8 419.6 204.3 421.1 205.1C422.6 205.9 425.4 209.2 427.1 210.1C428.8 211.0 434.3 212.3 436.2 213.1C438.1 213.9 442.3 217.1 444.2 217.8C446.1 218.5 451.0 218.6 453.2 219.2C455.4 219.8 461.2 222.2 464.2 223.2C467.2 224.2 477.2 227.8 480.3 228.6C483.4 229.4 490.1 229.9 492.3 230.2C494.5 230.5 497.9 230.7 500.0 230.9C502.1 231.1 510.0 232.0 511.5 232.0C513.0 232.0 513.3 231.9 513.8 231.2C514.3 230.5 515.4 227.2 516.0 226.0C516.6 224.8 518.7 221.6 519.5 220.3C520.3 219.0 522.4 215.6 522.9 214.6C523.4 213.6 523.6 212.1 524.1 210.8C524.6 209.5 526.6 204.3 527.5 202.8C528.4 201.3 531.1 198.2 532.1 197.1C533.1 196.0 535.6 193.4 536.7 192.5C537.8 191.6 541.0 189.7 542.4 189.1C543.8 188.5 547.7 187.2 549.3 186.8C550.9 186.4 555.7 185.4 557.3 185.1C558.9 184.8 561.7 184.5 564.2 184.5C566.7 184.5 574.2 184.6 580.0 184.7C585.8 184.8 612.9 185.1 617.0 185.1"/>
<polyline stroke="#0000ff" points="67.6,360.1 74.0,362.1 90.1,362.7 97.1,361.1 108.1,363.1 120.2,364.1 132.2,365.5 140.2,366.5 146.2,366.5 160.0,366.5 180.3,366.1 190.4,366.7 200.0,367.5 205.0,367.5 206.0,365.5 210.0,363.5 215.0,362.7 220.1,363.5 225.1,362.1 230.1,363.1 236.1,364.3 242.1,364.1 244.5,360.7 248.1,359.7 256.2,359.1 266.2,358.5 272.2,356.1 280.2,353.1 286.2,351.0 294.3,350.6 300.3,348.6 306.3,349.0 312.3,347.0 320.3,346.0 330.4,344.4 336.4,345.0 340.0,344.4 350.0,343.0 360.1,342.0 369.1,341.6 380.1,343.4 392.1,343.4 400.2,345.0 410.2,345.0 420.2,346.6 429.2,347.0 433.3,349.0 440.3,349.4 446.3,348.0 452.3,349.0 458.3,347.0 465.3,346.0 472.4,347.4 480.0,347.2 488.0,349.4 500.1,350.6 510.1,350.2 520.1,350.0 527.1,349.0 531.1,350.4 535.2,349.4 540.2,351.4 550.2,352.0 560.2,353.1 570.3,354.1 580.3,355.1 590.3,356.1 599.3,355.1 608.4,356.5 615.4,355.1 617.2,355.7"/>
<polyline stroke="#ff00ff" points="145.2,366.5 146.2,366.5 153.3,366.5"/>
<polyline stroke="#ff00ff" points="154.3,366.5 160.0,366.5 160.3,366.5"/>
<polyline stroke="#ff00ff" points="165.3,366.4 169.3,366.3"/>
<polyline stroke="#ff00ff" points="180.3,366.1 188.4,366.6"/>
<polyline stroke="#ff00ff" points="190.4,366.7 200.0,367.5 205.0,367.5"/>
<polyline stroke="#d4d400" stroke-width="1.6" points="379.5,282 468,282.1"/>
<polyline stroke="#d8ac00" stroke-width="1.5" points="147.5,280.8 240.0,280.6 243.0,280.8 245.1,282.4 247.0,280.9 250.5,281.2"/>
<polyline stroke="#d8ac00" stroke-width="1.5" points="378.8,281.2 400.0,280.9 450.0,280.9 468.0,281.0 500.0,281.2 517.6,280.8"/>
<polyline stroke="#ff0000" points="67.1,310.2 142.0,312.4 142.7,301.0"/>
<polyline stroke="#ff0000" points="252.0,303.1 253.1,306.6 253.5,309.3 256.3,311.7 262.0,312.2 360.0,312.2 375.2,312.5 375.8,305.4"/>
<polyline stroke="#ff0000" points="406.2,298.4 407.3,299.5 408.2,309.3 410.7,309.3"/>
<polyline stroke="#ff0000" points="434.3,305.1 434.9,308.6 437.2,312.0 438.3,305.1 438.6,302.8"/>
<polyline stroke="#ff0000" points="451.2,307.4 452.1,310.3 454.4,312.0 463.6,312.9 474.4,312.6"/>
<polyline stroke="#ff0000" points="483.3,308.6 484.8,311.4 488.8,312.9 501.5,313.2 504.4,311.5 506.5,307.9"/>
<polyline stroke="#ff0000" points="510.1,302.5 510.8,309.4 513.7,312.9 515.1,303.6"/>
<polyline stroke="#ff0000" points="564.8,299.3 565.2,306.5 567.4,310.8 571.7,311.9 580.0,312.2 617.1,312.8"/>
<polyline stroke="#00ff00" points="143.6,301.0 144.6,293.0 145.7,283.0 147.8,279.8 205.0,280.0 233.7,279.4 241.7,278.8 245.1,280.8 248.0,279.6 250.3,280.8 251.4,284.8 252.0,303.1"/>
<polyline stroke="#00ff00" points="375.8,305.4 377.5,284.8 379.8,279.1 403.9,279.1 405.6,279.6 406.2,298.6"/>
<polyline stroke="#00ff00" points="411.8,287.5 412.1,283.0 412.7,279.6 431.5,279.0 432.6,285.6 434.3,305.1"/>
<polyline stroke="#00ff00" points="438.6,302.8 440.1,290.2 441.2,281.0 442.9,279.7 448.7,279.7 449.8,284.5 451.2,307.4"/>
<polyline stroke="#00ff00" points="475.6,289.6 477.3,284.5 479.0,279.9 480.7,279.3 481.3,283.3 482.5,285.6"/>
<polyline stroke="#00ff00" points="506.5,307.9 510.1,300.8"/>
<polyline stroke="#00ff00" points="515.1,303.6 516.0,295.8 517.2,280.9 519.5,278.9 528.7,280.0 545.8,278.7 557.3,278.4 563.6,278.7 564.2,284.4 564.8,299.3"/>
</g></g>
<path d="M84.5 32V384M95.5 32V384M107.5 32V384M129.5 32V384M141.5 32V384M152.5 32V384M175.5 32V384M187.5 32V384M198.5 32V384M221.5 32V384M233.5 32V384M244.5 32V384M267.5 32V384M278.5 32V384M290.5 32V384M313.5 32V384M324.5 32V384M336.5 32V384M359.5 32V384M370.5 32V384M382.5 32V384M404.5 32V384M416.5 32V384M427.5 32V384M450.5 32V384M462.5 32V384M473.5 32V384M496.5 32V384M508.5 32V384M519.5 32V384M542.5 32V384M553.5 32V384M565.5 32V384M588.5 32V384M599.5 32V384M611.5 32V384M66 366.5H618M66 332.5H618M66 298.5H618M66 264.5H618M66 230.5H618M66 196.5H618M66 162.5H618M66 128.5H618M66 94.5H618M66 60.5H618" stroke="#8f8f8f" stroke-opacity=".58" stroke-width=".4" fill="none"/>
<path d="M72.5 31V387M118.5 31V387M164.5 31V387M210.5 31V387M256.5 31V387M301.5 31V387M347.5 31V387M393.5 31V387M439.5 31V387M485.5 31V387M531.5 31V387M576.5 31V387M65 383.5H620M65 349.5H620M65 315.5H620M65 281.5H620M65 247.5H620M65 213.5H620M65 179.5H620M65 145.5H620M65 111.5H620M65 77.5H620M65 43.5H620" stroke="#de4f4f" stroke-opacity=".5" stroke-width=".6" fill="none"/>
<path d="M63 383.5H621M67.5 388V29M617.5 388V29" stroke="#1f1f1f" stroke-width=".68" fill="none"/>
<path d="M619.5 381V386L624.5 383.5ZM65 30.9H70L67.5 25.8ZM615 30.9H620.2L617.5 25.8Z" fill="#801f1f"/>
<text class="t" transform="translate(98.9 20.6) scale(1 1.06)">Temperaturverlauf und Fuellstand am: 01.11.2018, Stand 23:45Uhr</text>
<text class="a" transform="translate(60.5 386.0) scale(1 1.07)" text-anchor="end">0</text>
<text class="a" transform="translate(654.4 386.0) scale(1 1.07)" text-anchor="end">0</text>
<text class="a" transform="translate(60.5 352.0) scale(1 1.07)" text-anchor="end">10</text>
<text class="a" transform="translate(654.4 352.0) scale(1 1.07)" text-anchor="end">10</text>
<text class="a" transform="translate(60.5 318.0) scale(1 1.07)" text-anchor="end">20</text>
<text class="a" transform="translate(654.4 318.0) scale(1 1.07)" text-anchor="end">20</text>
<text class="a" transform="translate(60.5 284.0) scale(1 1.07)" text-anchor="end">30</text>
<text class="a" transform="translate(654.4 284.0) scale(1 1.07)" text-anchor="end">30</text>
<text class="a" transform="translate(60.5 250.0) scale(1 1.07)" text-anchor="end">40</text>
<text class="a" transform="translate(654.4 250.0) scale(1 1.07)" text-anchor="end">40</text>
<text class="a" transform="translate(60.5 216.0) scale(1 1.07)" text-anchor="end">50</text>
<text class="a" transform="translate(654.4 216.0) scale(1 1.07)" text-anchor="end">50</text>
<text class="a" transform="translate(60.5 182.0) scale(1 1.07)" text-anchor="end">60</text>
<text class="a" transform="translate(654.4 182.0) scale(1 1.07)" text-anchor="end">60</text>
<text class="a" transform="translate(60.5 148.0) scale(1 1.07)" text-anchor="end">70</text>
<text class="a" transform="translate(654.4 148.0) scale(1 1.07)" text-anchor="end">70</text>
<text class="a" transform="translate(60.5 114.0) scale(1 1.07)" text-anchor="end">80</text>
<text class="a" transform="translate(654.4 114.0) scale(1 1.07)" text-anchor="end">80</text>
<text class="a" transform="translate(60.5 80.0) scale(1 1.07)" text-anchor="end">90</text>
<text class="a" transform="translate(654.4 80.0) scale(1 1.07)" text-anchor="end">90</text>
<text class="a" transform="translate(60.5 46.0) scale(1 1.07)" text-anchor="end">100</text>
<text class="a" transform="translate(654.4 46.0) scale(1 1.07)" text-anchor="end">100</text>
<text class="a" transform="translate(72.5 397.3) scale(1 1.07)" text-anchor="middle">Thu 00:00</text>
<text class="a" transform="translate(210.5 397.3) scale(1 1.07)" text-anchor="middle">Thu 06:00</text>
<text class="a" transform="translate(347.5 397.3) scale(1 1.07)" text-anchor="middle">Thu 12:00</text>
<text class="a" transform="translate(485.5 397.3) scale(1 1.07)" text-anchor="middle">Thu 18:00</text>
<text class="l" transform="translate(18.4 210.9) rotate(-90) scale(.9 1.12)">C</text>
<text class="w" transform="translate(686.1 7.6) rotate(90)">RRDTOOL / TOBI OETIKER</text>
<rect x="16.8" y="407.5" width="8.2" height="8.2" fill="#ff0000" stroke="#000" stroke-width="1"/>
<text class="l" transform="translate(30.5 414.7) scale(1 1.08)">VL Kessel</text>
<rect x="114.5" y="407.5" width="8.2" height="8.2" fill="#000080" stroke="#000" stroke-width="1"/>
<text class="l" transform="translate(128.2 414.7) scale(1 1.08)">RL Kessel</text>
<rect x="219.5" y="407.5" width="8.2" height="8.2" fill="#ff80a8" stroke="#000" stroke-width="1"/>
<text class="l" transform="translate(233.2 414.7) scale(1 1.08)">VL Heizung</text>
<rect x="338.5" y="407.5" width="8.2" height="8.2" fill="#0000ff" stroke="#000" stroke-width="1"/>
<text class="l" transform="translate(352.2 414.7) scale(1 1.08)">RL Heizung</text>
<rect x="471.4" y="407.5" width="8.2" height="8.2" fill="#b00000" stroke="#000" stroke-width="1"/>
<text class="l" transform="translate(485.1 414.7) scale(1 1.08)">Puffer Oben</text>
<rect x="583.7" y="407.5" width="8.2" height="8.2" fill="#900090" stroke="#000" stroke-width="1"/>
<text class="l" transform="translate(597.4 414.7) scale(1 1.08)">Puffer Mitte</text>
<rect x="16.8" y="421.5" width="8.2" height="8.2" fill="#ff00ff" stroke="#000" stroke-width="1"/>
<text class="l" transform="translate(30.5 428.7) scale(1 1.08)">Luftfeuchte</text>
<rect x="124.5" y="421.5" width="8.2" height="8.2" fill="#0000ff" stroke="#000" stroke-width="1"/>
<text class="l" transform="translate(138.2 428.7) scale(1 1.08)">AT&gt;5C, FS AUS</text>
<rect x="246.8" y="421.5" width="8.2" height="8.2" fill="#ff00ff" stroke="#000" stroke-width="1"/>
<text class="l" transform="translate(260.5 428.7) scale(1 1.08)">AT&lt;2C, FS EIN</text>
<rect x="368.5" y="421.5" width="8.2" height="8.2" fill="#808080" stroke="#000" stroke-width="1"/>
<text class="l" transform="translate(382.2 428.7) scale(1 1.08)">Kessel-P AUS</text>
<rect x="483.4" y="421.5" width="8.2" height="8.2" fill="#d4d400" stroke="#000" stroke-width="1"/>
<text class="l" transform="translate(497.1 428.7) scale(1 1.08)">Kessel-P EIN</text>
<rect x="598.7" y="421.5" width="8.2" height="8.2" fill="#ff0000" stroke="#000" stroke-width="1"/>
<text class="l" transform="translate(612.4 428.7) scale(1 1.08)">Heiz-P AUS</text>
<rect x="16.8" y="435.5" width="8.2" height="8.2" fill="#00ff00" stroke="#000" stroke-width="1"/>
<text class="l" transform="translate(30.5 442.7) scale(1 1.08)">Heiz-P EIN</text>
<text class="l" transform="translate(120.3 442.7) scale(1 1.08)">akt.rH: 0.00</text>
<text class="l" transform="translate(224.0 442.7) scale(1 1.08)">akt.AT: 8.12 C</text>
<text class="l" transform="translate(342.0 442.7) scale(1 1.08)">min/maxAT24h: 4.56</text>
<text class="l" transform="translate(471.8 442.7) scale(1 1.08)">/12.31</text>
<text class="l" transform="translate(534.5 442.7) scale(1 1.08)">akt.Fuellstand:   73</text>
<text class="l" transform="translate(16.0 456.7) scale(1 1.08)">Aquarium:22.60 C</text>
<text class="l" transform="translate(144.2 456.7) scale(1 1.08)">min/max:22.34/22.79</text>
</svg></body></html>
